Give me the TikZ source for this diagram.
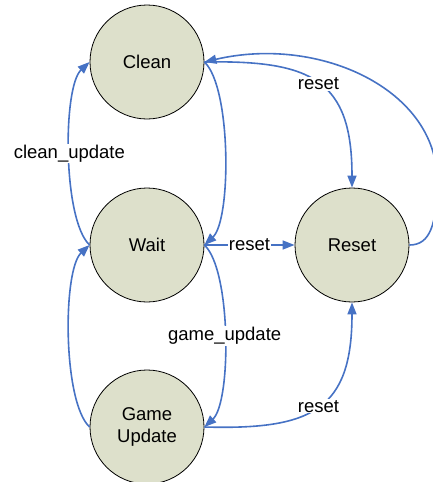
\documentclass[tikz,border=0pt]{standalone}
\usepackage{fontspec}
\setmainfont{Liberation Sans}
\usetikzlibrary{arrows.meta}
\definecolor{statefill}{RGB}{221,224,203}
\definecolor{edgeblue}{RGB}{70,114,196}
\tikzset{
  state/.style={circle, draw=black, line width=0.8pt, fill=statefill,
    minimum size=114pt, inner sep=0pt, align=center,
    font=\fontsize{18.5}{22}\selectfont},
  trans/.style={draw=edgeblue, line width=1.6pt,
    -{Triangle[length=12pt,width=9pt]}},
  lbl/.style={fill=white, inner sep=1pt, font=\fontsize{18.5}{22}\selectfont},
}
\begin{document}
\begin{tikzpicture}[x=1pt,y=-1pt]
  \useasboundingbox (0,0) rectangle (433,482);

  % states
  \node[state] (clean) at (147,62)  {Clean};
  \node[state] (wait)  at (147,245) {Wait};
  \node[state] (game)  at (147,427) {Game\\Update};
  \node[state] (reset) at (352,245) {Reset};

  % right-hand column: Clean -> Wait -> Game Update
  \draw[trans] (clean.east) .. controls +(27,25) and +(27,-25) .. (wait.east);
  \draw[trans] (wait.east) .. controls +(27,25) and +(27,-25) .. (game.east)
    node[lbl, pos=0.5] {game\_update};

  % left-hand column: Game Update -> Wait -> Clean
  \draw[trans] (game.west) .. controls +(-27,-25) and +(-27,25) .. (wait.west);
  \draw[trans] (wait.west) .. controls +(-27,-25) and +(-27,25) .. (clean.west)
    node[lbl, pos=0.5] {clean\_update};

  % reset transitions
  \draw[trans] (wait.east) -- (reset.west) node[lbl, pos=0.5] {reset};
  \draw[trans] (clean.east) .. controls (312,60) and (352,80) .. (reset.north)
    node[lbl, pos=0.5] {reset};
  \draw[trans] (game.east) .. controls (312,430) and (352,410) .. (reset.south)
    node[lbl, pos=0.5] {reset};

  % Reset -> Clean
  \draw[trans] (reset.east) .. controls (430,245) and (437,225) .. (437,180)
    .. controls (437,90) and (320,35) .. (clean.east);
\end{tikzpicture}
\end{document}
